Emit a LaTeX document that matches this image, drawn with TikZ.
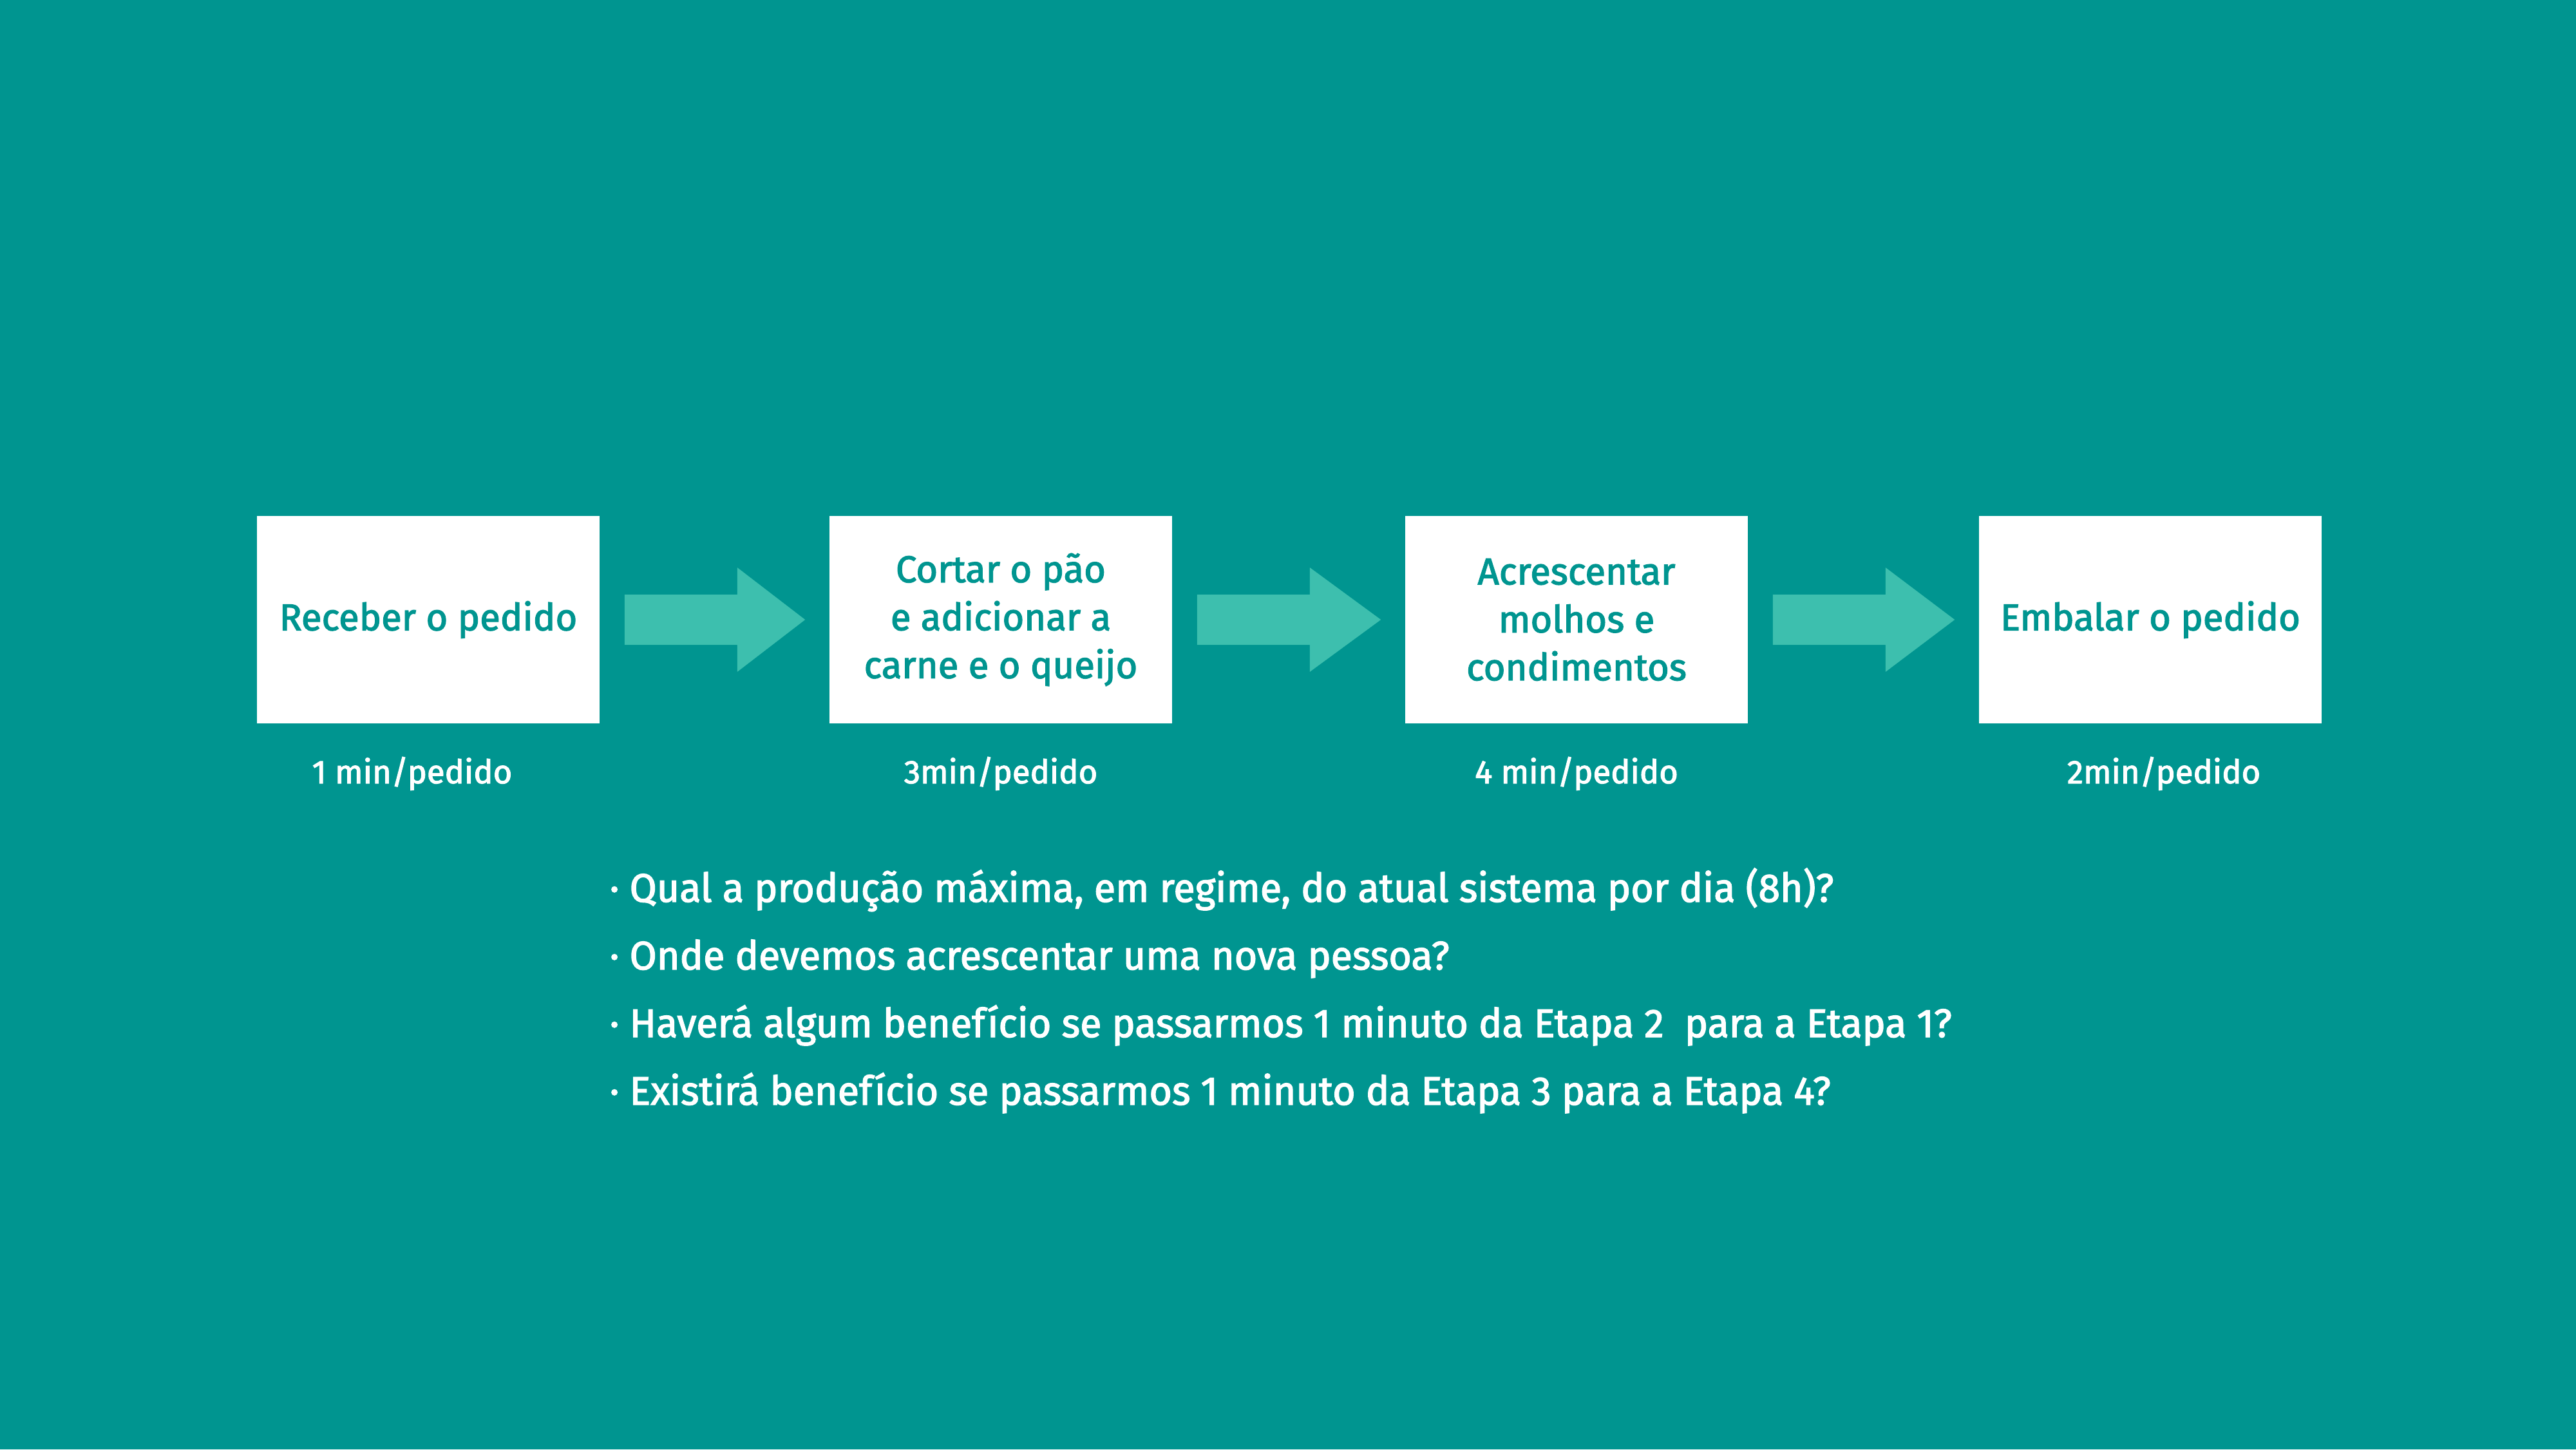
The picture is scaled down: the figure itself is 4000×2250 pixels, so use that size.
\documentclass[tikz,border=0pt]{standalone}
\usepackage{fontspec}
\setmainfont{Fira Sans}
\newfontfamily\medfont{Fira Sans}[FakeBold=2.2]
\newfontfamily\qfont{Fira Sans}[FakeBold=2.2, FakeStretch=0.984]
\usetikzlibrary{calc}
\definecolor{bgteal}{HTML}{009590}
\definecolor{arrowteal}{HTML}{3DBFAE}
\tikzset{
  stepbox/.style={rectangle, fill=white, minimum width=133pt, minimum height=80.5pt,
    inner sep=0pt, align=center, text=bgteal,
    font=\medfont\fontsize{14.5}{18.6}\selectfont},
  timelabel/.style={anchor=base, text=white, inner sep=0pt,
    font=\medfont\fontsize{12.7}{15}\selectfont},
  question/.style={anchor=base west, text=white, inner sep=0pt,
    font=\qfont\fontsize{15.5}{18}\selectfont},
  flowarrow/.style={fill=arrowteal}
}
\begin{document}
\begin{tikzpicture}[x=0.25pt, y=-0.25pt]
\fill[bgteal] (0,0) rectangle (4000,2250);
\useasboundingbox (0,0) rectangle (4000,2250);

\node[stepbox] (b1) at (665,962) {Receber o pedido};
\node[stepbox] (b2) at (1554,962) {Cortar o pão\\e adicionar a\\carne e o queijo};
\node[stepbox] (b3) at (2448,962) {Acrescentar\\molhos e\\condimentos};
\node[stepbox] (b4) at (3339,962) {\raisebox{-2.5pt}{Embalar o pedido}};

\foreach \a/\b in {b1/b2, b2/b3, b3/b4}{
  \fill[flowarrow] ($(\a.east)+(38,-39)$) -- ($(\a.east)+(213,-39)$)
    -- ($(\a.east)+(213,-81)$) -- ($(\b.west)+(-37,0)$)
    -- ($(\a.east)+(213,81)$) -- ($(\a.east)+(213,39)$)
    -- ($(\a.east)+(38,39)$) -- cycle;
}

\node[timelabel] (t1) at (640,1216) {1 min/pedido};
\node[timelabel] (t2) at (1554,1216) {3min/pedido};
\node[timelabel] (t3) at (2448,1216) {4 min/pedido};
\node[timelabel] (t4) at (3360,1216) {2min/pedido};

\node[question] (q1) at (946,1400) {· Qual a produção máxima, em regime, do atual sistema por dia (8h)?};
\node[question] (q2) at (946,1505) {· Onde devemos acrescentar uma nova pessoa?};
\node[question] (q3) at (946,1610) {· Haverá algum benefício se passarmos 1 minuto da Etapa 2\ \ para a Etapa 1?};
\node[question] (q4) at (946,1715) {· Existirá benefício se passarmos 1 minuto da Etapa 3 para a Etapa 4?};
\end{tikzpicture}
\end{document}
